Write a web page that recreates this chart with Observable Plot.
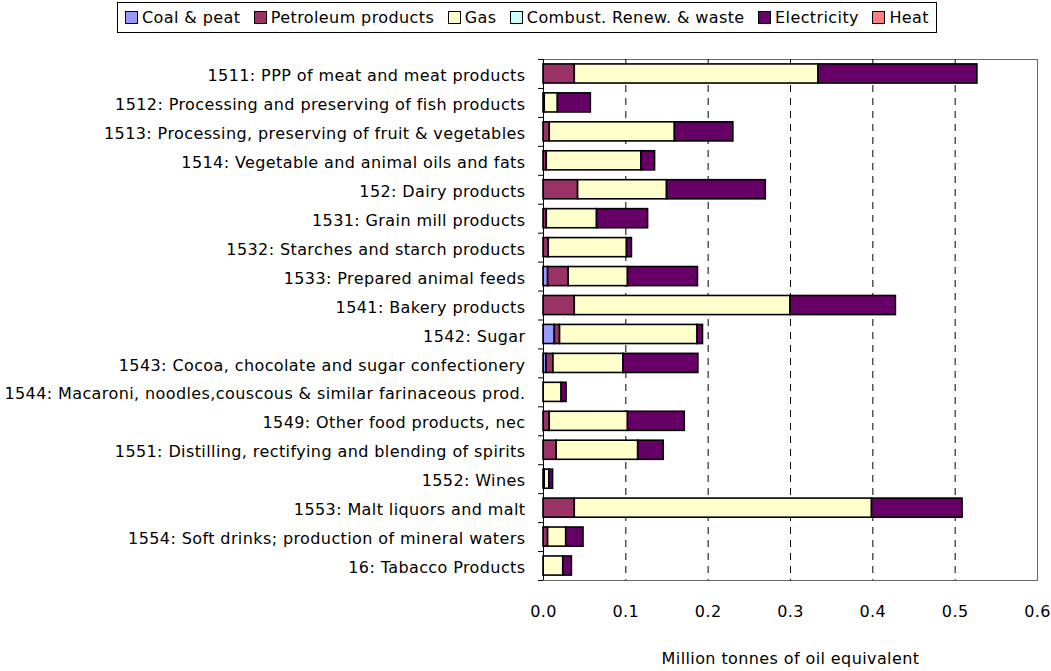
<!DOCTYPE html>
<html>
<head>
<meta charset="utf-8">
<script src="https://cdn.jsdelivr.net/npm/d3@7"></script>
<script src="https://cdn.jsdelivr.net/npm/@observablehq/plot@0.6"></script>
<style>
  body { margin: 0; background: #fff; font-family: "DejaVu Sans", sans-serif; }
  #legend { position: relative; height: 36px; }
  #legend .box { position: absolute; left: 117px; top: 2px; width: 804px; height: 29px; border: 1px solid #000;
    padding: 0 7px; display: flex; align-items: center; justify-content: space-between;
    font-size: 16px; letter-spacing: 0.4px; }
  #legend .item { display: flex; align-items: center; gap: 4px; white-space: nowrap; }
  #legend .sw { width: 11px; height: 11px; border: 1px solid #000; }
  #chart svg { display: block; }
</style>
</head>
<body>
<div id="legend"><div class="box"></div></div>
<div id="chart"></div>
<script>
const categories = [
  "1511: PPP of meat and meat products",
  "1512: Processing and preserving of fish products",
  "1513: Processing, preserving of fruit & vegetables",
  "1514: Vegetable and animal oils and fats",
  "152: Dairy products",
  "1531: Grain mill products",
  "1532: Starches and starch products",
  "1533: Prepared animal feeds",
  "1541: Bakery products",
  "1542: Sugar",
  "1543: Cocoa, chocolate and sugar confectionery",
  "1544: Macaroni, noodles,couscous & similar farinaceous prod.",
  "1549: Other food products, nec",
  "1551: Distilling, rectifying and blending of spirits",
  "1552: Wines",
  "1553: Malt liquors and malt",
  "1554: Soft drinks; production of mineral waters",
  "16: Tabacco Products"
];
const fuels = ["Coal & peat", "Petroleum products", "Gas", "Combust. Renew. & waste", "Electricity", "Heat"];
const fuelColors = ["#9999FF", "#993366", "#FFFFCC", "#CCFFFF", "#660066", "#FF8080"];

const coal   = [0, 0, 0, 0, 0, 0, 0, 0.0056, 0, 0.0137, 0.0036, 0, 0, 0, 0, 0, 0, 0];
const petrol = [0.038, 0.0015, 0.0076, 0.004, 0.042, 0.004, 0.0064, 0.025, 0.038, 0.0064, 0.0085, 0, 0.0076, 0.016, 0.0015, 0.038, 0.0056, 0];
const gas    = [0.296, 0.016, 0.152, 0.115, 0.108, 0.061, 0.095, 0.072, 0.262, 0.167, 0.085, 0.022, 0.095, 0.099, 0.0056, 0.361, 0.022, 0.024];
const renew  = [0, 0, 0, 0, 0, 0, 0, 0, 0, 0, 0, 0, 0, 0, 0, 0, 0, 0];
const elec   = [0.193, 0.040, 0.071, 0.0165, 0.120, 0.062, 0.006, 0.085, 0.128, 0.0066, 0.091, 0.006, 0.069, 0.031, 0.0045, 0.110, 0.021, 0.0105];
const heat   = [0, 0, 0, 0, 0, 0, 0, 0, 0, 0, 0, 0, 0, 0, 0, 0, 0, 0];
const xTicks = [0, 0.1, 0.2, 0.3, 0.4, 0.5, 0.6];
const gridTicks = [0.1, 0.2, 0.3, 0.4, 0.5];
const xLabel = "Million tonnes of oil equivalent";

const series = [coal, petrol, gas, renew, elec, heat];
const data = [];
categories.forEach((c, i) => {
  fuels.forEach((f, j) => data.push({category: c, fuel: f, value: series[j][i]}));
});

// legend
const box = document.querySelector("#legend .box");
fuels.forEach((f, j) => {
  const it = document.createElement("div");
  it.className = "item";
  it.innerHTML = `<span class="sw" style="background:${fuelColors[j]}"></span><span>${f}</span>`;
  box.appendChild(it);
});

const W = 1051, H = 635;
const mTop = 23, mBottom = 91;
const step = (H - mTop - mBottom) / categories.length;

const chart = Plot.plot({
  width: W,
  height: H,
  marginLeft: 543,
  marginRight: 14,
  marginTop: mTop,
  marginBottom: mBottom,
  style: {fontFamily: "'DejaVu Sans', sans-serif", fontSize: "16px", letterSpacing: "0.4px", color: "#000", background: "#fff"},
  x: {domain: [0, 0.6]},
  y: {domain: categories, paddingInner: 0.34, paddingOuter: 0.17, round: false},
  color: {domain: fuels, range: fuelColors},
  marks: [
    Plot.frame({stroke: "#666"}),
    Plot.ruleX(gridTicks, {stroke: "#000", strokeDasharray: "7,6"}),
    Plot.barX(data, Plot.stackX({y: "category", x: "value", fill: "fuel", order: fuels, stroke: "#000", strokeWidth: 1.6})),
    Plot.ruleX([0], {stroke: "#000"}),
    Plot.ruleY(categories, {y: d => d, x1: -0.006, x2: 0, dy: -step / 2, stroke: "#000"}),
    Plot.ruleY(categories.slice(-1), {y: d => d, x1: -0.006, x2: 0, dy: step / 2, stroke: "#000"}),
    Plot.axisY({tickSize: 0, tickPadding: 18, fontSize: 16, label: null, dy: 2}),
    Plot.axisX({ticks: xTicks, tickFormat: d3.format(".1f"), tickSize: 0, tickPadding: 25, fontSize: 16, label: null}),
    Plot.text([xLabel], {text: d => d, frameAnchor: "bottom", dy: 83, fontSize: 16})
  ]
});
document.getElementById("chart").appendChild(chart);
</script>
</body>
</html>
